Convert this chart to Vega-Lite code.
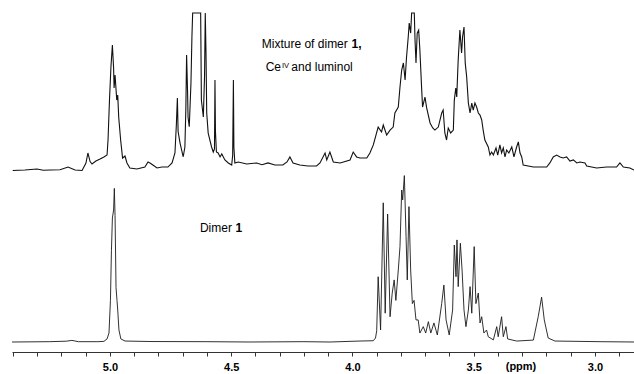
{
  "$schema": "https://vega.github.io/schema/vega-lite/v6.json",
  "width": 622,
  "height": 352,
  "autosize": "none",
  "padding": {"left": 12, "top": 0, "right": 0, "bottom": 22},
  "config": {"view": {"stroke": null}, "background": "#ffffff"},
  "datasets": {
    "top": [
      {"ppm": 5.401, "i": 0.3}, {"ppm": 5.351, "i": 0.6}, {"ppm": 5.301, "i": 1.3}, {"ppm": 5.275, "i": 0.5},
      {"ppm": 5.247, "i": 0.6}, {"ppm": 5.206, "i": 0.8}, {"ppm": 5.173, "i": 2.5}, {"ppm": 5.144, "i": 0.6},
      {"ppm": 5.115, "i": 0.3}, {"ppm": 5.099, "i": 5}, {"ppm": 5.091, "i": 11.4}, {"ppm": 5.082, "i": 6},
      {"ppm": 5.074, "i": 4.4}, {"ppm": 5.058, "i": 6.3}, {"ppm": 5.041, "i": 7.6}, {"ppm": 5.025, "i": 8.9},
      {"ppm": 5.012, "i": 10.1}, {"ppm": 5.008, "i": 19.6}, {"ppm": 5.002, "i": 45}, {"ppm": 4.996, "i": 65.8},
      {"ppm": 4.990, "i": 79.7}, {"ppm": 4.985, "i": 65}, {"ppm": 4.983, "i": 52.5}, {"ppm": 4.979, "i": 60.8},
      {"ppm": 4.972, "i": 44.9}, {"ppm": 4.968, "i": 48.1}, {"ppm": 4.964, "i": 34.2}, {"ppm": 4.956, "i": 19.6},
      {"ppm": 4.948, "i": 8.2}, {"ppm": 4.938, "i": 9.5}, {"ppm": 4.930, "i": 5.1}, {"ppm": 4.918, "i": 1.9},
      {"ppm": 4.889, "i": 1.3}, {"ppm": 4.856, "i": 2.5}, {"ppm": 4.843, "i": 5.7}, {"ppm": 4.835, "i": 5.1},
      {"ppm": 4.823, "i": 3.8}, {"ppm": 4.806, "i": 1.9}, {"ppm": 4.786, "i": 2.5}, {"ppm": 4.761, "i": 2.5},
      {"ppm": 4.744, "i": 5.1}, {"ppm": 4.732, "i": 11.4}, {"ppm": 4.726, "i": 30}, {"ppm": 4.722, "i": 46.2},
      {"ppm": 4.719, "i": 25}, {"ppm": 4.711, "i": 17.7}, {"ppm": 4.698, "i": 9}, {"ppm": 4.691, "i": 15.2},
      {"ppm": 4.687, "i": 40}, {"ppm": 4.684, "i": 73.4}, {"ppm": 4.680, "i": 50}, {"ppm": 4.678, "i": 34},
      {"ppm": 4.673, "i": 28}, {"ppm": 4.666, "i": 55.7}, {"ppm": 4.662, "i": 85}, {"ppm": 4.659, "i": 100},
      {"ppm": 4.626, "i": 100}, {"ppm": 4.623, "i": 44.9}, {"ppm": 4.615, "i": 34.2}, {"ppm": 4.610, "i": 60},
      {"ppm": 4.607, "i": 100}, {"ppm": 4.604, "i": 75}, {"ppm": 4.601, "i": 36.7}, {"ppm": 4.595, "i": 24},
      {"ppm": 4.581, "i": 15.2}, {"ppm": 4.574, "i": 12}, {"ppm": 4.569, "i": 14}, {"ppm": 4.567, "i": 57.6},
      {"ppm": 4.565, "i": 25}, {"ppm": 4.561, "i": 12}, {"ppm": 4.554, "i": 11.4}, {"ppm": 4.546, "i": 8.9},
      {"ppm": 4.539, "i": 10.8}, {"ppm": 4.526, "i": 7}, {"ppm": 4.512, "i": 5.1}, {"ppm": 4.498, "i": 3.8},
      {"ppm": 4.494, "i": 10}, {"ppm": 4.491, "i": 57.6}, {"ppm": 4.489, "i": 15}, {"ppm": 4.485, "i": 5.1},
      {"ppm": 4.471, "i": 5.7}, {"ppm": 4.436, "i": 4.4}, {"ppm": 4.395, "i": 5.1}, {"ppm": 4.373, "i": 4},
      {"ppm": 4.348, "i": 5.1}, {"ppm": 4.320, "i": 3.8}, {"ppm": 4.287, "i": 3.8}, {"ppm": 4.270, "i": 5.7},
      {"ppm": 4.258, "i": 8.9}, {"ppm": 4.245, "i": 5.1}, {"ppm": 4.217, "i": 3.8}, {"ppm": 4.184, "i": 3.2},
      {"ppm": 4.148, "i": 3.2}, {"ppm": 4.134, "i": 5.1}, {"ppm": 4.113, "i": 11.4}, {"ppm": 4.106, "i": 7},
      {"ppm": 4.093, "i": 12}, {"ppm": 4.079, "i": 5.7}, {"ppm": 4.051, "i": 5.1}, {"ppm": 4.010, "i": 7},
      {"ppm": 3.997, "i": 12}, {"ppm": 3.983, "i": 8.9}, {"ppm": 3.969, "i": 8.2}, {"ppm": 3.941, "i": 8.2},
      {"ppm": 3.928, "i": 11.4}, {"ppm": 3.914, "i": 16.5}, {"ppm": 3.894, "i": 27.8}, {"ppm": 3.880, "i": 24.7},
      {"ppm": 3.873, "i": 29.1}, {"ppm": 3.859, "i": 22.8}, {"ppm": 3.845, "i": 25.9}, {"ppm": 3.832, "i": 27.8},
      {"ppm": 3.825, "i": 36.7}, {"ppm": 3.811, "i": 40.5}, {"ppm": 3.804, "i": 53.2}, {"ppm": 3.797, "i": 63.9},
      {"ppm": 3.790, "i": 68.4}, {"ppm": 3.783, "i": 57.6}, {"ppm": 3.777, "i": 72.2}, {"ppm": 3.770, "i": 84.8},
      {"ppm": 3.766, "i": 93.7}, {"ppm": 3.760, "i": 87.3}, {"ppm": 3.756, "i": 100}, {"ppm": 3.745, "i": 100},
      {"ppm": 3.742, "i": 82.9}, {"ppm": 3.738, "i": 68.4}, {"ppm": 3.733, "i": 87.3}, {"ppm": 3.727, "i": 89.2},
      {"ppm": 3.722, "i": 76.6}, {"ppm": 3.715, "i": 53.2}, {"ppm": 3.711, "i": 40.5}, {"ppm": 3.701, "i": 46.8},
      {"ppm": 3.694, "i": 39.9}, {"ppm": 3.680, "i": 30.4}, {"ppm": 3.669, "i": 27.2}, {"ppm": 3.660, "i": 25.9},
      {"ppm": 3.646, "i": 27.8}, {"ppm": 3.632, "i": 36.7}, {"ppm": 3.626, "i": 38.6}, {"ppm": 3.619, "i": 24.1},
      {"ppm": 3.612, "i": 19.6}, {"ppm": 3.605, "i": 27.2}, {"ppm": 3.595, "i": 24.1}, {"ppm": 3.584, "i": 25.9},
      {"ppm": 3.580, "i": 44.9}, {"ppm": 3.574, "i": 52.5}, {"ppm": 3.570, "i": 46.8}, {"ppm": 3.564, "i": 70.3},
      {"ppm": 3.557, "i": 89.2}, {"ppm": 3.550, "i": 74.7}, {"ppm": 3.546, "i": 84.8}, {"ppm": 3.540, "i": 91.1},
      {"ppm": 3.535, "i": 68.4}, {"ppm": 3.529, "i": 59.5}, {"ppm": 3.522, "i": 43}, {"ppm": 3.515, "i": 36.7},
      {"ppm": 3.508, "i": 43}, {"ppm": 3.502, "i": 38.6}, {"ppm": 3.495, "i": 43}, {"ppm": 3.488, "i": 40.5},
      {"ppm": 3.481, "i": 36.7}, {"ppm": 3.474, "i": 35.4}, {"ppm": 3.467, "i": 32.3}, {"ppm": 3.461, "i": 25.9},
      {"ppm": 3.454, "i": 19.6}, {"ppm": 3.440, "i": 15.2}, {"ppm": 3.433, "i": 10.1}, {"ppm": 3.426, "i": 12},
      {"ppm": 3.419, "i": 10.1}, {"ppm": 3.408, "i": 14.6}, {"ppm": 3.401, "i": 10.1}, {"ppm": 3.392, "i": 16.5},
      {"ppm": 3.385, "i": 11.4}, {"ppm": 3.378, "i": 14.6}, {"ppm": 3.371, "i": 8.9}, {"ppm": 3.364, "i": 13.3},
      {"ppm": 3.355, "i": 11.4}, {"ppm": 3.343, "i": 15.2}, {"ppm": 3.334, "i": 8.9}, {"ppm": 3.323, "i": 15.2},
      {"ppm": 3.316, "i": 18.4}, {"ppm": 3.309, "i": 11.4}, {"ppm": 3.302, "i": 8.9}, {"ppm": 3.296, "i": 3.8},
      {"ppm": 3.254, "i": 2.5}, {"ppm": 3.199, "i": 2.5}, {"ppm": 3.186, "i": 5.1}, {"ppm": 3.172, "i": 8.9},
      {"ppm": 3.158, "i": 10.1}, {"ppm": 3.144, "i": 8.9}, {"ppm": 3.131, "i": 8.2}, {"ppm": 3.117, "i": 8.9},
      {"ppm": 3.103, "i": 6.3}, {"ppm": 3.089, "i": 7}, {"ppm": 3.075, "i": 5.1}, {"ppm": 3.062, "i": 5.7},
      {"ppm": 3.041, "i": 5.1}, {"ppm": 3.034, "i": 3.2}, {"ppm": 2.993, "i": 1.9}, {"ppm": 2.952, "i": 2.5},
      {"ppm": 2.911, "i": 2.5}, {"ppm": 2.897, "i": 5.1}, {"ppm": 2.883, "i": 2.5}, {"ppm": 2.856, "i": 1.9},
      {"ppm": 2.839, "i": 0.6}
    ],
    "bottom": [
      {"ppm": 5.404, "i": 0}, {"ppm": 5.25, "i": 0.2}, {"ppm": 5.18, "i": 0.5}, {"ppm": 5.157, "i": 1},
      {"ppm": 5.13, "i": 0.2}, {"ppm": 5.05, "i": 0.2}, {"ppm": 5.025, "i": 0.4}, {"ppm": 5.012, "i": 1.9},
      {"ppm": 5.004, "i": 5.6}, {"ppm": 4.998, "i": 26}, {"ppm": 4.994, "i": 57}, {"ppm": 4.990, "i": 77.5},
      {"ppm": 4.985, "i": 82.5}, {"ppm": 4.982, "i": 96}, {"ppm": 4.979, "i": 79}, {"ppm": 4.975, "i": 34},
      {"ppm": 4.971, "i": 26}, {"ppm": 4.968, "i": 20}, {"ppm": 4.963, "i": 7.5}, {"ppm": 4.955, "i": 1.9},
      {"ppm": 4.938, "i": 0.6}, {"ppm": 4.835, "i": 0.3}, {"ppm": 4.6, "i": 0.2}, {"ppm": 4.423, "i": 0},
      {"ppm": 4.2, "i": 0.2}, {"ppm": 4.093, "i": 0}, {"ppm": 3.969, "i": 0.6}, {"ppm": 3.914, "i": 0.8},
      {"ppm": 3.905, "i": 2.5}, {"ppm": 3.900, "i": 7}, {"ppm": 3.894, "i": 40.8}, {"ppm": 3.884, "i": 7.5},
      {"ppm": 3.873, "i": 87}, {"ppm": 3.865, "i": 18}, {"ppm": 3.855, "i": 80}, {"ppm": 3.845, "i": 15.8},
      {"ppm": 3.836, "i": 30.6}, {"ppm": 3.828, "i": 38.8}, {"ppm": 3.821, "i": 26}, {"ppm": 3.811, "i": 45},
      {"ppm": 3.804, "i": 59.6}, {"ppm": 3.797, "i": 95}, {"ppm": 3.793, "i": 88.8}, {"ppm": 3.786, "i": 104},
      {"ppm": 3.779, "i": 66}, {"ppm": 3.774, "i": 38.8}, {"ppm": 3.767, "i": 84.6}, {"ppm": 3.760, "i": 45},
      {"ppm": 3.753, "i": 24}, {"ppm": 3.746, "i": 26}, {"ppm": 3.738, "i": 13.8}, {"ppm": 3.729, "i": 13.8},
      {"ppm": 3.722, "i": 5.6}, {"ppm": 3.708, "i": 9.6}, {"ppm": 3.698, "i": 5.6}, {"ppm": 3.687, "i": 12.7},
      {"ppm": 3.677, "i": 5.6}, {"ppm": 3.664, "i": 11.9}, {"ppm": 3.650, "i": 4.4}, {"ppm": 3.632, "i": 24},
      {"ppm": 3.623, "i": 35.6}, {"ppm": 3.614, "i": 13.8}, {"ppm": 3.601, "i": 4.4}, {"ppm": 3.587, "i": 20},
      {"ppm": 3.580, "i": 60.6}, {"ppm": 3.573, "i": 40.8}, {"ppm": 3.569, "i": 63.8}, {"ppm": 3.564, "i": 34.6},
      {"ppm": 3.555, "i": 61.7}, {"ppm": 3.548, "i": 45}, {"ppm": 3.540, "i": 20}, {"ppm": 3.532, "i": 9.6},
      {"ppm": 3.522, "i": 20}, {"ppm": 3.515, "i": 34.6}, {"ppm": 3.508, "i": 18}, {"ppm": 3.498, "i": 59.6},
      {"ppm": 3.491, "i": 24}, {"ppm": 3.481, "i": 30.6}, {"ppm": 3.474, "i": 11.9}, {"ppm": 3.467, "i": 15.8},
      {"ppm": 3.458, "i": 5.6}, {"ppm": 3.447, "i": 7.5}, {"ppm": 3.440, "i": 3.3}, {"ppm": 3.419, "i": 1.3},
      {"ppm": 3.405, "i": 9.6}, {"ppm": 3.399, "i": 3.3}, {"ppm": 3.385, "i": 15.8}, {"ppm": 3.378, "i": 3.3},
      {"ppm": 3.367, "i": 9.6}, {"ppm": 3.360, "i": 1.9}, {"ppm": 3.323, "i": 0.6}, {"ppm": 3.254, "i": 1.2},
      {"ppm": 3.234, "i": 15.8}, {"ppm": 3.220, "i": 28}, {"ppm": 3.209, "i": 13.8}, {"ppm": 3.193, "i": 2.5},
      {"ppm": 3.165, "i": 0.6}, {"ppm": 2.979, "i": 0.2}, {"ppm": 2.839, "i": 0}
    ]
  },
  "encoding": {
    "x": {
      "field": "ppm",
      "type": "quantitative",
      "scale": {"domain": [2.839, 5.404], "reverse": true, "nice": false, "zero": false},
      "axis": {
        "title": null,
        "grid": false,
        "values": [2.9, 3.0, 3.1, 3.2, 3.3, 3.4, 3.5, 3.6, 3.7, 3.8, 3.9, 4.0, 4.1, 4.2, 4.3, 4.4, 4.5, 4.6, 4.7, 4.8, 4.9, 5.0, 5.1, 5.2, 5.3, 5.4],
        "labelExpr": "abs(datum.value*2 - round(datum.value*2)) < 0.01 ? format(datum.value, '.1f') : ''",
        "labelOverlap": false,
        "labelFlush": false,
        "labelFont": "Liberation Sans",
        "labelFontWeight": "bold",
        "labelFontSize": 11,
        "labelColor": "#000000",
        "labelPadding": 5,
        "tickSize": 4,
        "tickColor": "#333333",
        "domainColor": "#333333",
        "tickWidth": 1,
        "domainWidth": 1
      }
    }
  },
  "layer": [
    {
      "data": {"name": "top"},
      "mark": {"type": "line", "color": "#111111", "strokeWidth": 1.1},
      "encoding": {"y": {"field": "i", "type": "quantitative", "scale": {"domain": [-114.56, 108.23], "nice": false, "zero": false}, "axis": null}}
    },
    {
      "data": {"name": "bottom"},
      "mark": {"type": "line", "color": "#1a1a1a", "strokeWidth": 0.9},
      "encoding": {"y": {"field": "i", "type": "quantitative", "scale": {"domain": [-6.25, 213.75], "nice": false, "zero": false}, "axis": null}}
    },
    {
      "data": {"values": [
        {"ppm": 4.374, "i": 77.7, "label": "Mixture of dimer"},
        {"ppm": 4.358, "i": 63.5, "label": "Ce"},
        {"ppm": 4.252, "i": 63.5, "label": "and luminol"}
      ]},
      "mark": {"type": "text", "align": "left", "baseline": "alphabetic", "font": "Liberation Sans", "fontSize": 12, "color": "#000000"},
      "encoding": {"y": {"field": "i", "type": "quantitative", "scale": {"domain": [-114.56, 108.23], "nice": false, "zero": false}, "axis": null}, "text": {"field": "label"}}
    },
    {
      "data": {"values": [{"ppm": 4.004, "i": 77.7, "label": "1,"}]},
      "mark": {"type": "text", "align": "left", "baseline": "alphabetic", "font": "Liberation Sans", "fontSize": 12, "fontWeight": "bold", "color": "#000000"},
      "encoding": {"y": {"field": "i", "type": "quantitative", "scale": {"domain": [-114.56, 108.23], "nice": false, "zero": false}, "axis": null}, "text": {"field": "label"}}
    },
    {
      "data": {"values": [{"ppm": 4.291, "i": 65.5, "label": "IV"}]},
      "mark": {"type": "text", "align": "left", "baseline": "alphabetic", "font": "Liberation Sans", "fontSize": 7.5, "color": "#000000"},
      "encoding": {"y": {"field": "i", "type": "quantitative", "scale": {"domain": [-114.56, 108.23], "nice": false, "zero": false}, "axis": null}, "text": {"field": "label"}}
    },
    {
      "data": {"values": [{"ppm": 4.629, "i": 68.9, "label": "Dimer"}]},
      "mark": {"type": "text", "align": "left", "baseline": "alphabetic", "font": "Liberation Sans", "fontSize": 12, "color": "#000000"},
      "encoding": {"y": {"field": "i", "type": "quantitative", "scale": {"domain": [-6.25, 213.75], "nice": false, "zero": false}, "axis": null}, "text": {"field": "label"}}
    },
    {
      "data": {"values": [{"ppm": 4.482, "i": 68.9, "label": "1"}]},
      "mark": {"type": "text", "align": "left", "baseline": "alphabetic", "font": "Liberation Sans", "fontSize": 12, "fontWeight": "bold", "color": "#000000"},
      "encoding": {"y": {"field": "i", "type": "quantitative", "scale": {"domain": [-6.25, 213.75], "nice": false, "zero": false}, "axis": null}, "text": {"field": "label"}}
    },
    {
      "data": {"values": [{"ppm": 3.305, "i": -17.8, "label": "(ppm)"}]},
      "mark": {"type": "text", "align": "center", "baseline": "alphabetic", "font": "Liberation Sans", "fontSize": 11, "fontWeight": "bold", "color": "#000000"},
      "encoding": {"y": {"field": "i", "type": "quantitative", "scale": {"domain": [-6.25, 213.75], "nice": false, "zero": false}, "axis": null}, "text": {"field": "label"}}
    }
  ],
  "resolve": {"scale": {"y": "independent"}}
}
